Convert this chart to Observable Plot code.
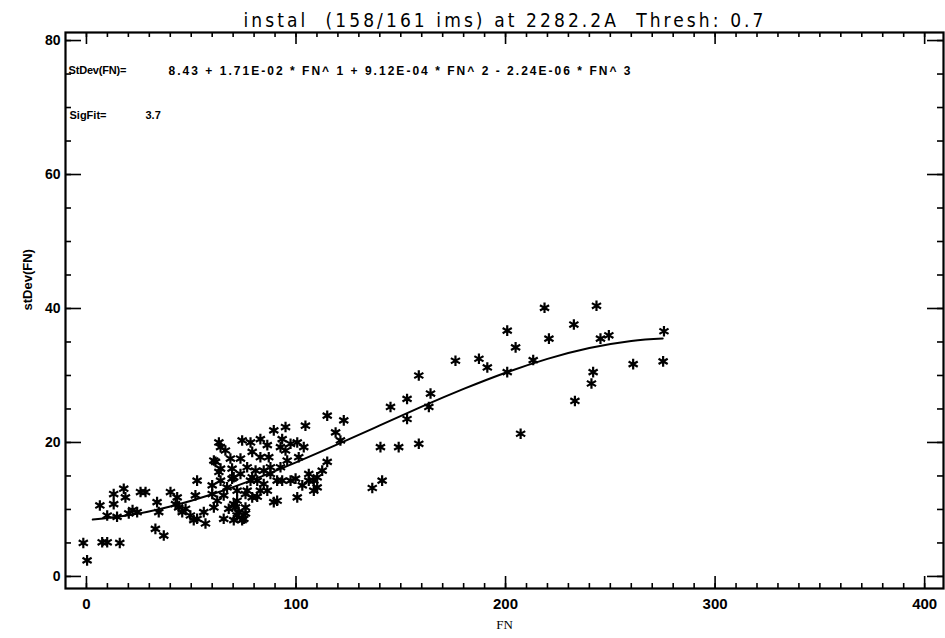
<!DOCTYPE html>
<html><head><meta charset="utf-8">
<script src="https://cdn.jsdelivr.net/npm/d3@7"></script>
<script src="https://cdn.jsdelivr.net/npm/@observablehq/plot@0.6"></script>
<style>
body{margin:0;background:#fff;}
</style></head><body>
<div id="chart"></div>
<script>
const fnValues = [-1.5,0.3,7.5,9.9,15.9,6.4,13,13,17.8,18.6,25.8,28.2,14.6,20.2,24.2,33.7,34.5,32.9,36.9,40.1,
  43.3,44,47.3,45.7,52,52.8,52.8,56,56.8,60,63.2,62.4,65.5,70.3,71.1,75.1,76.7,79.1,63.2,66.3,
  61.6,64,69.5,74.3,73.5,79.1,78.3,83,83,87,89.4,95,93.4,95,100.6,104.5,103.7,114.9,122.8,118.9,
  121.2,114.9,110.1,106.1,99.8,103,110.1,100.6,91,91,84.6,81.5,83,78.3,75.9,69.5,65.5,71.9,72.7,75.9,
  74.3,60.8,95.8,92.6,87.8,80.7,87.8,136.4,140.3,149,158.6,141.1,145.1,153,153,158.6,164.2,163.4,
  176.1,187.3,191.3,200.8,200.8,204.8,213.2,207.2,218.6,243.4,232.6,220.7,245.3,249.3,275.6,241.8,241,233.1,
  260.9,275.2,108.5,89.4,64,60.8,68.7,71.9,84.6,86.3,81.5,93.4,97.4,92.6,97.4,86.3,76.7,64,73.5,67.9,
  79.1,106.1,101.3,9.9,22,42.5,49.6,51.2,70.3,71.9,75.9,112.5,108.5,60,67.1,70.3];
const stdevValues = [5.0,2.4,5.1,5.1,5.0,10.6,12.3,10.8,13.1,11.8,12.6,12.6,8.9,9.4,9.6,11.1,9.6,7.1,6.1,12.6,
  11.8,10.3,10.1,9.6,12.1,14.3,8.6,9.6,7.9,13.6,15.6,11.3,8.6,14.8,10.3,8.6,12.8,14.8,20,18.8,
  17.1,16.1,16.1,20.3,17.6,18.6,20,20.5,17.8,17.8,21.8,22.3,20.5,18.8,20,22.5,19.3,24,23.3,21.5,
  20.3,17.1,14.8,15.3,14.6,13.6,13.3,11.8,14.3,11.3,13.8,14.3,12.8,14.3,12.3,14.6,12.1,11.3,9.6,10.3,
  8.4,10.3,17.3,16.3,16.3,15.8,15.3,13.2,19.3,19.3,19.8,14.3,25.3,23.5,26.5,30,27.3,25.3,
  32.2,32.5,31.2,30.5,36.7,34.2,32.3,21.3,40.1,40.4,37.6,35.5,35.5,36,36.6,30.5,28.8,26.2,
  31.7,32.1,12.8,11.1,14.3,17.3,17.6,12.8,15.8,12.8,11.9,14.3,14.3,19.3,19.8,19.6,16.3,19.3,15.3,10.1,
  11.8,14.3,17.8,9.1,9.9,10.8,9.1,8.4,10.8,9.1,9.4,15.8,14.3,12.3,13.3,8.4];
// fitted curve as drawn
const fitFN = [3,20,40,60,80,100,120,140,160,180,200,220,240,260,275];
const fitSD = [8.49,9.12,10.43,12.26,14.49,17.02,19.74,22.55,25.34,27.99,30.41,32.48,34.10,35.16,35.52];
const xTickLabels = [0,100,200,300,400];
const yTickLabels = [0,20,40,60,80];
const titleText = "instal  (158/161 ims) at 2282.2A  Thresh: 0.7";
const xLabel = "FN";
const yLabel = "stDev(FN)";
const fitLabel = "StDev(FN)=";
const fitFormula = "8.43 + 1.71E-02 * FN^ 1 + 9.12E-04 * FN^ 2 - 2.24E-06 * FN^ 3";
const sigLabel = "SigFit=";
const sigValue = "3.7";

const points = fnValues.map((x, i) => ({x, y: stdevValues[i]}));
const fit = fitFN.map((x, i) => ({x, y: fitSD[i]}));
const xMinor = d3.range(0, 401, 10);
const yMinor = d3.range(0, 81, 5);

const W = 945, H = 638, mL = 65, mR = 2, mT = 32, mB = 50;
const fw = W - mL - mR, fh = H - mT - mB;
const sans = "'Liberation Sans','DejaVu Sans',sans-serif";
const narrow = "'Liberation Sans Narrow','DejaVu Sans Condensed','Liberation Sans',sans-serif";

const tk = {stroke: "#000", strokeWidth: 1.6};
const chart = Plot.plot({
  width: W, height: H,
  marginLeft: mL, marginRight: mR, marginTop: mT, marginBottom: mB,
  x: {domain: [-10, 409], axis: null},
  y: {domain: [-1.8, 81.2], axis: null},
  style: {fontFamily: sans, color: "#000", background: "#fff", overflow: "visible"},
  marks: [
    Plot.frame({stroke: "#000", strokeWidth: 2.2}),
    // inward ticks on all four sides
    Plot.tickX(xMinor, {x: d => d, insetTop: fh - 5, ...tk}),
    Plot.tickX(xTickLabels, {x: d => d, insetTop: fh - 12, ...tk}),
    Plot.tickX(xMinor, {x: d => d, insetBottom: fh - 5, ...tk}),
    Plot.tickX(xTickLabels, {x: d => d, insetBottom: fh - 12, ...tk}),
    Plot.tickY(yMinor, {y: d => d, insetRight: fw - 6, ...tk}),
    Plot.tickY(yTickLabels, {y: d => d, insetRight: fw - 16, ...tk}),
    Plot.tickY(yMinor, {y: d => d, insetLeft: fw - 6, ...tk}),
    Plot.tickY(yTickLabels, {y: d => d, insetLeft: fw - 16, ...tk}),
    // tick labels
    Plot.axisX({anchor: "bottom", ticks: xTickLabels, tickSize: 0, tickPadding: 10, label: null, fontSize: 15, fontWeight: "bold"}),
    Plot.axisY({anchor: "left", ticks: yTickLabels, tickSize: 0, tickPadding: 5, label: null, fontSize: 14, fontWeight: "bold"}),
    // axis titles (centred on their axes)
    Plot.text([xLabel], {frameAnchor: "bottom", dy: 40, fontSize: 13, fontFamily: "'Liberation Serif',serif"}),
    Plot.text([yLabel], {frameAnchor: "left", dx: -38, rotate: -90, fontSize: 13, fontWeight: "bold"}),
    // title
    Plot.text([titleText], {frameAnchor: "top-left", dx: 178, dy: -6, lineAnchor: "bottom", textAnchor: "start", fontSize: 19, fontFamily: narrow}),
    // annotations
    Plot.text([fitLabel], {frameAnchor: "top-left", dx: 3, dy: 34, textAnchor: "start", fontSize: 11, fontWeight: "bold"}),
    Plot.text([fitFormula], {frameAnchor: "top-left", dx: 103, dy: 34, textAnchor: "start", fontSize: 12, fontWeight: "bold"}),
    Plot.text([sigLabel], {frameAnchor: "top-left", dx: 4, dy: 79, textAnchor: "start", fontSize: 11, fontWeight: "bold"}),
    Plot.text([sigValue], {frameAnchor: "top-left", dx: 80, dy: 79, textAnchor: "start", fontSize: 11, fontWeight: "bold"}),
    // data
    Plot.line(fit, {x: "x", y: "y", stroke: "#000", strokeWidth: 2, curve: "natural"}),
    Plot.dot(points, {x: "x", y: "y", symbol: "asterisk", r: 5, stroke: "#000", strokeWidth: 2.2})
  ]
});
// stretch a few strings to the widths they occupy in the reference
const widths = new Map([[titleText, 520], [fitFormula, 462], [fitLabel, 58]]);
chart.querySelectorAll("text").forEach(t => {
  const w = widths.get(t.textContent);
  if (w) { t.setAttribute("textLength", w); t.setAttribute("lengthAdjust", "spacing"); }
});
document.getElementById("chart").append(chart);
</script>
</body></html>
